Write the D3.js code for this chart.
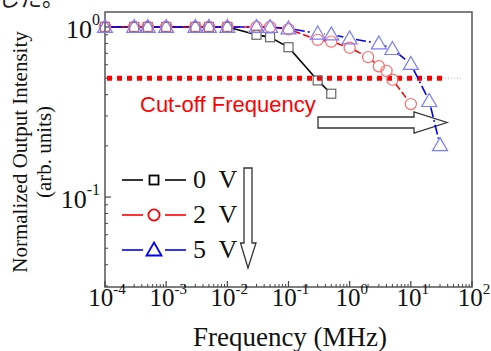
<!DOCTYPE html>
<html>
<head>
<meta charset="utf-8">
<script src="https://cdn.jsdelivr.net/npm/d3@7"></script>
<style>
  body { margin: 0; background: #fff; }
  svg { display: block; }
</style>
</head>
<body>
<svg id="chart" width="491" height="351"></svg>
<script>

// frequencies (MHz) and normalized intensity for each bias
var freq0 = [1e-4, 3e-4, 5e-4, 1e-3, 3e-3, 5e-3, 1e-2, 3e-2, 5e-2, 1e-1, 3e-1, 5e-1];
var val0  = [1, 1, 1, 1, 1, 1, 1, 0.90, 0.87, 0.76, 0.485, 0.405];

var freq2 = [1e-4, 3e-4, 5e-4, 1e-3, 3e-3, 5e-3, 1e-2, 3e-2, 5e-2, 1e-1, 3e-1, 5e-1, 1, 2, 3, 4, 5, 10];
var val2  = [1, 1, 1, 1, 1, 1, 1, 1, 1, 0.97, 0.84, 0.82, 0.755, 0.665, 0.587, 0.552, 0.49, 0.352];

var freq5 = [1e-4, 3e-4, 5e-4, 1e-3, 3e-3, 5e-3, 1e-2, 3e-2, 5e-2, 1e-1, 3e-1, 5e-1, 1, 3, 5, 10, 20, 30];
var val5  = [1, 1, 1, 1, 1, 1, 1, 1, 1, 0.98, 0.915, 0.905, 0.856, 0.80, 0.742, 0.606, 0.367, 0.202];

var legendLabels = ["0 V", "2 V", "5 V"];
var xTickExp = [-4, -3, -2, -1, 0, 1, 2];
var yTickExp = [0, -1];
var cutoffLevel = 0.5;

var svg = d3.select("#chart");

// plot box (note: "top" is reserved on window, so use pl* names)
var plLeft = 105, plRight = 472, plTop = 12, plBottom = 287;

var x = d3.scaleLog().domain([1e-4, 1e2]).range([plLeft, plRight]);
var y = d3.scaleLog().domain([Math.pow(10, -1.529), Math.pow(10, 0.088)]).range([plBottom, plTop]);

var serif = "'Liberation Serif', 'Times New Roman', serif";
var sans = "'Liberation Sans', Arial, sans-serif";

// cut off japanese text from the page above
svg.append("text")
  .attr("x", -2).attr("y", 6)
  .attr("font-family", "'Noto Sans CJK JP', sans-serif")
  .attr("font-size", 22)
  .attr("fill", "#222")
  .text("した。");

// frame
svg.append("rect")
  .attr("x", plLeft).attr("y", plTop)
  .attr("width", plRight - plLeft).attr("height", plBottom - plTop)
  .attr("fill", "none").attr("stroke", "#555").attr("stroke-width", 1.5);

// x ticks (inward)
var xMinor = [];
for (var e = -4; e < 2; e++) {
  for (var m = 2; m <= 9; m++) xMinor.push(m * Math.pow(10, e));
}
svg.selectAll(".xminor").data(xMinor).enter().append("line")
  .attr("x1", d => x(d)).attr("x2", d => x(d))
  .attr("y1", plBottom).attr("y2", plBottom - 3)
  .attr("stroke", "#444").attr("stroke-width", 1);
svg.selectAll(".xmajor").data(xTickExp).enter().append("line")
  .attr("x1", d => x(Math.pow(10, d))).attr("x2", d => x(Math.pow(10, d)))
  .attr("y1", plBottom).attr("y2", plBottom - 6)
  .attr("stroke", "#444").attr("stroke-width", 1.2);

var xl = svg.selectAll(".xlab").data(xTickExp).enter().append("text")
  .attr("x", d => x(Math.pow(10, d)) + 2)
  .attr("y", 306)
  .attr("text-anchor", "middle")
  .attr("font-family", serif)
  .attr("font-size", 25)
  .attr("fill", "#111");
xl.append("tspan").text("10");
xl.append("tspan").attr("dy", -12).attr("font-size", 15).text(d => d);

// y ticks (inward)
var yMinor = [];
for (var e2 = -2; e2 < 0; e2++) {
  for (var m2 = 2; m2 <= 9; m2++) {
    var v = m2 * Math.pow(10, e2);
    if (v >= y.domain()[0]) yMinor.push(v);
  }
}
svg.selectAll(".yminor").data(yMinor).enter().append("line")
  .attr("x1", plLeft).attr("x2", plLeft + 3)
  .attr("y1", d => y(d)).attr("y2", d => y(d))
  .attr("stroke", "#444").attr("stroke-width", 1);
svg.selectAll(".ymajor").data(yTickExp).enter().append("line")
  .attr("x1", plLeft).attr("x2", plLeft + 6)
  .attr("y1", d => y(Math.pow(10, d))).attr("y2", d => y(Math.pow(10, d)))
  .attr("stroke", "#444").attr("stroke-width", 1.2);

var yl = svg.selectAll(".ylab").data(yTickExp).enter().append("text")
  .attr("x", 100)
  .attr("y", d => y(Math.pow(10, d)) + 11)
  .attr("text-anchor", "end")
  .attr("font-family", serif)
  .attr("font-size", 26)
  .attr("fill", "#111");
yl.append("tspan").text("10");
yl.append("tspan").attr("dy", -13).attr("font-size", 16).text(d => d);

// axis titles
svg.append("text")
  .attr("x", 290).attr("y", 346)
  .attr("text-anchor", "middle")
  .attr("font-family", serif).attr("font-size", 27).attr("fill", "#111")
  .text("Frequency (MHz)");

svg.append("text")
  .attr("transform", "translate(27,152) rotate(-90)")
  .attr("text-anchor", "middle")
  .attr("font-family", serif).attr("font-size", 21).attr("fill", "#111")
  .text("Normalized Output Intensity");
svg.append("text")
  .attr("transform", "translate(51,152) rotate(-90)")
  .attr("text-anchor", "middle")
  .attr("font-family", serif).attr("font-size", 21).attr("fill", "#111")
  .text("(arb. units)");

// cut-off line: thin grey dotted guide + thick red dotted
var yc = y(cutoffLevel);
svg.append("line")
  .attr("x1", plLeft + 1).attr("x2", 462).attr("y1", yc).attr("y2", yc)
  .attr("stroke", "#999").attr("stroke-width", 0.8).attr("stroke-dasharray", "1,2");
svg.append("line")
  .attr("x1", plLeft + 2).attr("x2", 444).attr("y1", yc).attr("y2", yc)
  .attr("stroke", "#f00").attr("stroke-width", 5).attr("stroke-dasharray", "5,5");

svg.append("text")
  .attr("x", 140).attr("y", 112)
  .attr("font-family", sans).attr("font-size", 22).attr("fill", "#f00")
  .text("Cut-off Frequency");

// arrows
var rightArrow = [[318, 117], [414, 117], [414, 112], [447, 122.5], [414, 133], [414, 128], [318, 128]];
svg.append("path")
  .attr("d", d3.line()(rightArrow) + "Z")
  .attr("fill", "none").attr("stroke", "#333").attr("stroke-width", 1.3);

var downArrow = [[244, 168], [252, 168], [252, 243], [256, 243], [248, 268], [240.5, 243], [244, 243]];
svg.append("path")
  .attr("d", d3.line()(downArrow) + "Z")
  .attr("fill", "none").attr("stroke", "#333").attr("stroke-width", 1.3);

// series
var series = [
  { f: freq0, v: val0, line: "#000", mark: "#666", shape: "square", dash: null, gap: 5 },
  { f: freq2, v: val2, line: "#f00", mark: "#ff6a6a", shape: "circle", dash: "7,3", gap: 5.5 },
  { f: freq5, v: val5, line: "#00f", mark: "#7b7bff", shape: "triangle", dash: "10,3,2,3", gap: 6.5 }
];

function marker(g, shape, cx, cy, color, sw) {
  if (shape === "square") {
    g.append("rect").attr("x", cx - 4.5).attr("y", cy - 4.5).attr("width", 9).attr("height", 9)
      .attr("fill", "none").attr("stroke", color).attr("stroke-width", sw);
  } else if (shape === "circle") {
    g.append("circle").attr("cx", cx).attr("cy", cy).attr("r", 5.6)
      .attr("fill", "none").attr("stroke", color).attr("stroke-width", sw);
  } else {
    var tri = [[cx, cy - 7.5], [cx + 7.5, cy + 5.5], [cx - 7.5, cy + 5.5]];
    g.append("path").attr("d", d3.line()(tri) + "Z")
      .attr("fill", "none").attr("stroke", color).attr("stroke-width", sw);
  }
}

series.forEach(function (s) {
  var g = svg.append("g");
  var pts = s.f.map((f, i) => [x(f), y(s.v[i])]);
  // segments shortened so they stop at the marker edges
  for (var i = 0; i < pts.length - 1; i++) {
    var a = pts[i], b = pts[i + 1];
    var dx = b[0] - a[0], dy = b[1] - a[1];
    var len = Math.sqrt(dx * dx + dy * dy);
    if (len <= 2 * s.gap) continue;
    var ux = dx / len, uy = dy / len;
    var seg = g.append("line")
      .attr("x1", a[0] + ux * s.gap).attr("y1", a[1] + uy * s.gap)
      .attr("x2", b[0] - ux * s.gap).attr("y2", b[1] - uy * s.gap)
      .attr("stroke", s.line).attr("stroke-width", 1.6);
    if (s.dash) seg.attr("stroke-dasharray", s.dash);
  }
  pts.forEach(p => marker(g, s.shape, p[0], p[1], s.mark, 1.2));
});

// legend
var legendColors = ["#000", "#f00", "#00f"];
var legendShapes = ["square", "circle", "triangle"];
legendLabels.forEach(function (lab, i) {
  var cy = 180 + i * 35;
  var g = svg.append("g");
  g.append("line").attr("x1", 122).attr("x2", 143).attr("y1", cy).attr("y2", cy)
    .attr("stroke", legendColors[i]).attr("stroke-width", 1.6);
  g.append("line").attr("x1", 165).attr("x2", 186).attr("y1", cy).attr("y2", cy)
    .attr("stroke", legendColors[i]).attr("stroke-width", 1.6);
  marker(g, legendShapes[i], 154, cy, legendColors[i], 1.8);
  g.append("text").attr("x", 193).attr("y", cy + 8)
    .attr("font-family", serif).attr("font-size", 26).attr("fill", "#111")
    .attr("xml:space", "preserve")
    .text(lab.replace(" ", "  "));
});

</script>
</body>
</html>
